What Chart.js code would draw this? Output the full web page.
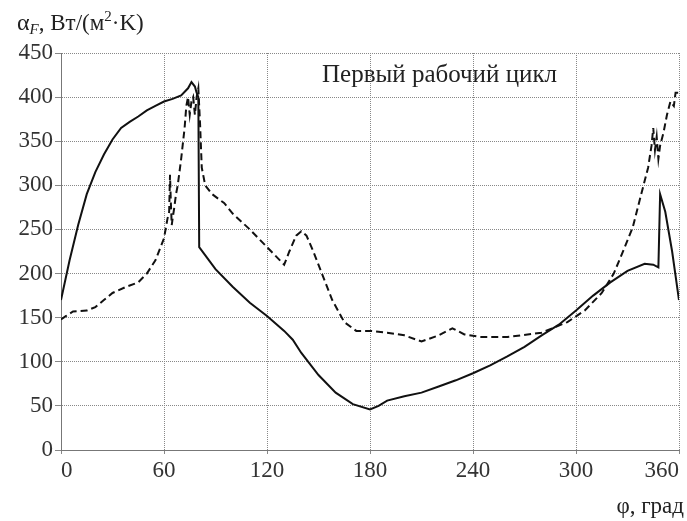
<!DOCTYPE html>
<html>
<head>
<meta charset="utf-8">
<script src="https://cdn.jsdelivr.net/npm/chart.js@4"></script>
<style>
  html, body { margin: 0; padding: 0; background: #fff; }
  #wrap { width: 687px; height: 521px; }
</style>
</head>
<body>
<div id="wrap"><canvas id="c" width="687" height="521"></canvas></div>
<script>
// crank angle, deg, and heat transfer coefficient, W/(m2*K)
var phiSolid = [0, 5, 10, 15, 20, 25, 30, 35, 40, 45, 50, 55, 60, 65, 70, 74, 76, 78, 79, 80, 80.5,
  90, 100, 110, 120, 130, 135, 140, 150, 160, 170, 180, 185, 190, 200, 210, 220, 230, 240, 250,
  260, 270, 280, 290, 300, 310, 320, 330, 340, 345, 348, 349, 352, 356, 360];
var alphaSolid = [170, 215, 255, 290, 315, 335, 352, 365, 372, 378, 385, 390, 395, 398, 402, 410, 417, 412, 405, 400, 230,
  205, 185, 167, 152, 135, 125, 110, 85, 65, 52, 46, 50, 56, 61, 65, 72, 79, 87, 96,
  106, 117, 130, 142, 158, 175, 190, 203, 211, 210, 207, 290, 270, 225, 170];

var phiDashed = [0, 3, 7, 15, 20, 25, 30, 38, 45, 50, 55, 60, 62, 63, 63.5, 64, 64.5, 65, 66, 67, 68, 70,
  72, 73, 74, 75, 76, 77, 78, 79, 80, 81, 82, 84, 88, 95, 100, 110, 120, 130, 133, 137, 140, 143,
  147, 152, 158, 165, 172, 180, 190, 200, 210, 220, 228, 235, 245, 260, 280, 295, 305, 315, 322,
  328, 333, 338, 342, 344, 345, 346, 347, 348, 349, 351, 353, 355, 357, 358, 360];
var alphaDashed = [148, 152, 157, 158, 162, 170, 178, 185, 190, 200, 215, 240, 262, 270, 312, 280, 255, 262, 275, 290, 300, 330,
  365, 390, 400, 380, 395, 400, 380, 400, 410, 370, 320, 300, 290, 280, 268, 250, 230, 210, 225, 243, 248, 243,
  225, 200, 170, 145, 135, 135, 133, 130, 123, 130, 138, 131, 128, 128, 133, 145, 158, 178, 200,
  228, 252, 290, 320, 345, 365, 340, 355, 330, 345, 360, 380, 395, 390, 405, 405];

var xTicks = [0, 60, 120, 180, 240, 300, 360];
var yTicks = [0, 50, 100, 150, 200, 250, 300, 350, 400, 450];

var titleText = 'Первый рабочий цикл';
var xLabel = 'φ, град';

function pts(xs, ys) {
  return xs.map(function (x, i) { return { x: x, y: ys[i] }; });
}

var serif = '"Liberation Serif", "DejaVu Serif", serif';

// texts drawn on the canvas: axis names and the inner title
var textPlugin = {
  id: 'texts',
  afterDraw: function (chart) {
    var ctx = chart.ctx;
    ctx.save();
    ctx.fillStyle = '#222';
    ctx.textBaseline = 'alphabetic';

    // y axis name: alpha_F, Вт/(м^2·K)
    var x = 17, y = 30;
    ctx.font = '24px ' + serif;
    ctx.fillText('α', x, y);
    x += ctx.measureText('α').width;
    ctx.font = 'italic 15px ' + serif;
    ctx.fillText('F', x, y + 4);
    x += ctx.measureText('F').width;
    ctx.font = '23px ' + serif;
    ctx.fillText(', Вт/(м', x, y);
    x += ctx.measureText(', Вт/(м').width;
    ctx.font = '15px ' + serif;
    ctx.fillText('2', x, y - 9);
    x += ctx.measureText('2').width;
    ctx.font = '23px ' + serif;
    ctx.fillText('·K)', x, y);

    // x axis name
    ctx.font = '23px ' + serif;
    ctx.textAlign = 'right';
    ctx.fillText(xLabel, 684, 513);

    // title inside the plot
    ctx.font = '25px ' + serif;
    ctx.textAlign = 'left';
    ctx.fillText(titleText, 322, 82);
    ctx.restore();
  }
};

new Chart(document.getElementById('c'), {
  type: 'scatter',
  data: {
    datasets: [{
      label: 'solid',
      data: pts(phiSolid, alphaSolid),
      showLine: true,
      borderColor: '#111',
      borderWidth: 2,
      pointRadius: 0,
      tension: 0
    }, {
      label: 'dashed',
      data: pts(phiDashed, alphaDashed),
      showLine: true,
      borderColor: '#111',
      borderWidth: 2,
      borderDash: [7, 4],
      pointRadius: 0,
      tension: 0
    }]
  },
  options: {
    responsive: false,
    animation: false,
    layout: { padding: { top: 53, right: 8, bottom: 0, left: 0 } },
    plugins: {
      legend: { display: false },
      tooltip: { enabled: false }
    },
    scales: {
      x: {
        type: 'linear',
        min: 0,
        max: 360,
        afterBuildTicks: function (s) { s.ticks = xTicks.map(function (v) { return { value: v }; }); },
        afterFit: function (s) { s.height = 71; s.paddingLeft = 0; s.paddingRight = 0; },
        grid: { color: '#888', lineWidth: 1, tickLength: 4, tickColor: '#888' },
        border: { display: true, color: '#777', width: 1, dash: [1, 1] },
        ticks: { color: '#333', font: { family: serif, size: 23 }, padding: 3, maxRotation: 0, align: 'inner' }
      },
      y: {
        min: 0,
        max: 450,
        afterBuildTicks: function (s) { s.ticks = yTicks.map(function (v) { return { value: v }; }); },
        afterFit: function (s) { s.width = 61; },
        grid: { color: '#888', lineWidth: 1, tickLength: 6, tickColor: '#888' },
        border: { display: true, color: '#777', width: 1, dash: [1, 1] },
        ticks: { color: '#333', font: { family: serif, size: 23 }, padding: 2 }
      }
    }
  },
  plugins: [textPlugin]
});
</script>
</body>
</html>
